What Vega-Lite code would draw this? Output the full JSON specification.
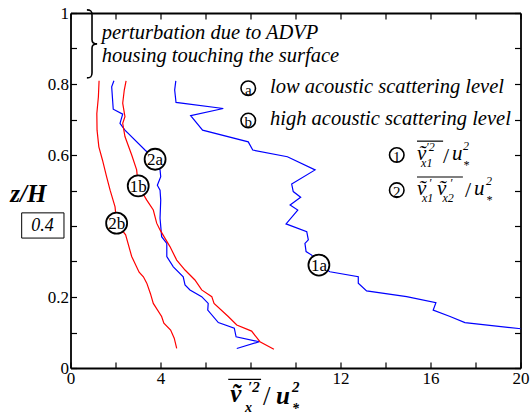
{
  "$schema": "https://vega.github.io/schema/vega-lite/v6.json",
  "width": 450,
  "height": 355,
  "autosize": {"type": "none"},
  "padding": {"left": 70.5, "top": 13, "right": 11.5, "bottom": 47},
  "background": "white",
  "config": {
    "view": {"stroke": null},
    "font": "'Liberation Serif', 'Times New Roman', Times, serif",
    "text": {"font": "'Liberation Serif', 'Times New Roman', Times, serif"},
    "axis": {
      "domainColor": "black", "domainWidth": 1.8,
      "tickColor": "black", "tickWidth": 1.2, "tickSize": -6,
      "labelFont": "'Liberation Serif', 'Times New Roman', Times, serif", "labelFontSize": 17, "labelColor": "black",
      "labelFlush": false, "labelOverlap": false, "grid": false
    }
  },
  "datasets": {
    "curves": [
      {"s":"1a","i":0,"x":4.68,"y":0.809},{"s":"1a","i":1,"x":4.63,"y":0.783},{"s":"1a","i":2,"x":4.69,"y":0.748},{"s":"1a","i":3,"x":6.79,"y":0.731},{"s":"1a","i":4,"x":5.34,"y":0.711},{"s":"1a","i":5,"x":5.87,"y":0.670},{"s":"1a","i":6,"x":7.90,"y":0.637},{"s":"1a","i":7,"x":8.10,"y":0.614},{"s":"1a","i":8,"x":9.64,"y":0.595},{"s":"1a","i":9,"x":10.87,"y":0.558},{"s":"1a","i":10,"x":9.83,"y":0.518},{"s":"1a","i":11,"x":9.90,"y":0.497},{"s":"1a","i":12,"x":10.23,"y":0.481},{"s":"1a","i":13,"x":9.76,"y":0.459},{"s":"1a","i":14,"x":10.10,"y":0.445},{"s":"1a","i":15,"x":9.58,"y":0.406},{"s":"1a","i":16,"x":10.50,"y":0.384},{"s":"1a","i":17,"x":10.57,"y":0.361},{"s":"1a","i":18,"x":10.42,"y":0.351},{"s":"1a","i":19,"x":10.47,"y":0.328},{"s":"1a","i":20,"x":10.72,"y":0.318},{"s":"1a","i":21,"x":11.04,"y":0.290},{"s":"1a","i":22,"x":11.53,"y":0.271},{"s":"1a","i":23,"x":12.79,"y":0.257},{"s":"1a","i":24,"x":12.79,"y":0.239},{"s":"1a","i":25,"x":13.16,"y":0.217},{"s":"1a","i":26,"x":14.94,"y":0.201},{"s":"1a","i":27,"x":16.24,"y":0.184},{"s":"1a","i":28,"x":16.12,"y":0.163},{"s":"1a","i":29,"x":16.87,"y":0.145},{"s":"1a","i":30,"x":17.53,"y":0.128},{"s":"1a","i":31,"x":20.1,"y":0.110},
      {"s":"2a","i":0,"x":1.93,"y":0.809},{"s":"2a","i":1,"x":1.83,"y":0.792},{"s":"2a","i":2,"x":1.90,"y":0.729},{"s":"2a","i":3,"x":2.32,"y":0.715},{"s":"2a","i":4,"x":2.20,"y":0.689},{"s":"2a","i":5,"x":2.42,"y":0.670},{"s":"2a","i":6,"x":3.31,"y":0.614},{"s":"2a","i":7,"x":3.76,"y":0.588},{"s":"2a","i":8,"x":3.98,"y":0.558},{"s":"2a","i":9,"x":4.01,"y":0.539},{"s":"2a","i":10,"x":3.86,"y":0.515},{"s":"2a","i":11,"x":3.98,"y":0.501},{"s":"2a","i":12,"x":4.01,"y":0.473},{"s":"2a","i":13,"x":3.98,"y":0.422},{"s":"2a","i":14,"x":4.05,"y":0.370},{"s":"2a","i":15,"x":4.28,"y":0.351},{"s":"2a","i":16,"x":4.28,"y":0.314},{"s":"2a","i":17,"x":4.57,"y":0.285},{"s":"2a","i":18,"x":5.01,"y":0.257},{"s":"2a","i":19,"x":5.09,"y":0.234},{"s":"2a","i":20,"x":5.31,"y":0.220},{"s":"2a","i":21,"x":5.83,"y":0.201},{"s":"2a","i":22,"x":6.12,"y":0.182},{"s":"2a","i":23,"x":6.10,"y":0.163},{"s":"2a","i":24,"x":6.57,"y":0.128},{"s":"2a","i":25,"x":7.28,"y":0.112},{"s":"2a","i":26,"x":7.36,"y":0.088},{"s":"2a","i":27,"x":8.39,"y":0.074},{"s":"2a","i":28,"x":7.39,"y":0.055},
      {"s":"1b","i":0,"x":2.47,"y":0.809},{"s":"1b","i":1,"x":2.39,"y":0.783},{"s":"1b","i":2,"x":2.32,"y":0.746},{"s":"1b","i":3,"x":2.42,"y":0.708},{"s":"1b","i":4,"x":2.32,"y":0.689},{"s":"1b","i":5,"x":2.42,"y":0.652},{"s":"1b","i":6,"x":2.72,"y":0.600},{"s":"1b","i":7,"x":2.94,"y":0.558},{"s":"1b","i":8,"x":3.01,"y":0.513},{"s":"1b","i":9,"x":3.39,"y":0.473},{"s":"1b","i":10,"x":3.68,"y":0.445},{"s":"1b","i":11,"x":3.83,"y":0.408},{"s":"1b","i":12,"x":3.98,"y":0.389},{"s":"1b","i":13,"x":4.42,"y":0.342},{"s":"1b","i":14,"x":4.72,"y":0.304},{"s":"1b","i":15,"x":5.09,"y":0.276},{"s":"1b","i":16,"x":5.53,"y":0.248},{"s":"1b","i":17,"x":5.83,"y":0.220},{"s":"1b","i":18,"x":6.28,"y":0.201},{"s":"1b","i":19,"x":6.38,"y":0.182},{"s":"1b","i":20,"x":7.01,"y":0.145},{"s":"1b","i":21,"x":7.39,"y":0.121},{"s":"1b","i":22,"x":8.05,"y":0.104},{"s":"1b","i":23,"x":8.42,"y":0.074},{"s":"1b","i":24,"x":9.04,"y":0.053},
      {"s":"2b","i":0,"x":1.27,"y":0.809},{"s":"2b","i":1,"x":1.24,"y":0.764},{"s":"2b","i":2,"x":1.17,"y":0.717},{"s":"2b","i":3,"x":1.18,"y":0.670},{"s":"2b","i":4,"x":1.26,"y":0.623},{"s":"2b","i":5,"x":1.42,"y":0.586},{"s":"2b","i":6,"x":1.60,"y":0.540},{"s":"2b","i":7,"x":1.76,"y":0.501},{"s":"2b","i":8,"x":1.98,"y":0.454},{"s":"2b","i":9,"x":2.05,"y":0.408},{"s":"2b","i":10,"x":2.45,"y":0.375},{"s":"2b","i":11,"x":2.72,"y":0.314},{"s":"2b","i":12,"x":3.05,"y":0.270},{"s":"2b","i":13,"x":3.24,"y":0.257},{"s":"2b","i":14,"x":3.39,"y":0.239},{"s":"2b","i":15,"x":3.55,"y":0.210},{"s":"2b","i":16,"x":3.68,"y":0.182},{"s":"2b","i":17,"x":4.05,"y":0.145},{"s":"2b","i":18,"x":4.15,"y":0.126},{"s":"2b","i":19,"x":4.45,"y":0.107},{"s":"2b","i":20,"x":4.61,"y":0.084},{"s":"2b","i":21,"x":4.72,"y":0.055}
    ],
    "markers": [
      {"label":"1a","x":11.04,"y":0.290},{"label":"2a","x":3.76,"y":0.588},{"label":"1b","x":3.01,"y":0.513},{"label":"2b","x":2.05,"y":0.408}
    ],
    "keys": [
      {"k":"a","x":7.9,"y":0.788},{"k":"b","x":7.9,"y":0.697},{"k":"1","x":14.5,"y":0.600},{"k":"2","x":14.5,"y":0.501}
    ],
    "notes": [
      {"t":"perturbation due to ADVP","x":1.387,"y":0.927},
      {"t":"housing touching the surface","x":1.387,"y":0.862},
      {"t":"low acoustic scattering level","x":8.867,"y":0.774},
      {"t":"high acoustic scattering level","x":8.867,"y":0.685}
    ],
    "fbig": [
      {"t":"ṽ","x":15.40,"y":0.586},{"t":"u","x":16.96,"y":0.586},
      {"t":"ṽ","x":15.40,"y":0.487},{"t":"ṽ","x":16.29,"y":0.487},{"t":"u","x":17.93,"y":0.487}
    ],
    "fsup": [
      {"t":"′2","x":15.80,"y":0.610},{"t":"2","x":17.44,"y":0.613},
      {"t":"′","x":15.92,"y":0.510},{"t":"′","x":16.85,"y":0.510},{"t":"2","x":18.47,"y":0.515}
    ],
    "fsub": [
      {"t":"x1","x":15.58,"y":0.566},{"t":"*","x":17.44,"y":0.560},
      {"t":"x1","x":15.62,"y":0.467},{"t":"x2","x":16.53,"y":0.467},{"t":"*","x":18.47,"y":0.462}
    ],
    "fslash": [
      {"t":"/","x":16.56,"y":0.577},{"t":"/","x":17.53,"y":0.482}
    ],
    "bars": [
      {"x":15.40,"x2":16.56,"y":0.639},{"x":15.40,"x2":17.44,"y":0.538},{"x":7.01,"x2":8.47,"y":-0.032}
    ],
    "tbig": [
      {"t":"ṽ","x":7.10,"y":-0.096},{"t":"u","x":9.13,"y":-0.101}
    ],
    "tsup": [
      {"t":"′2","x":7.89,"y":-0.068},{"t":"2","x":9.84,"y":-0.068}
    ],
    "tsub": [
      {"t":"x","x":7.76,"y":-0.125},{"t":"*","x":9.84,"y":-0.126}
    ],
    "tslash": [
      {"t":"/","x":8.56,"y":-0.104}
    ]
  },
  "layer": [
    {
      "data": {"name": "curves"},
      "mark": {"type": "line", "strokeWidth": 1.2, "clip": true},
      "encoding": {
        "x": {"field": "x", "type": "quantitative", "scale": {"domain": [0, 20], "nice": false, "zero": false},
              "axis": {"orient": "bottom", "title": null, "values": [0,2,4,6,8,10,12,14,16,18,20], "labelPadding": 8,
                       "labelExpr": "(datum.value % 4 == 0 && datum.value != 8) ? datum.label : ''"}},
        "y": {"field": "y", "type": "quantitative", "scale": {"domain": [0, 1], "nice": false, "zero": false},
              "axis": {"orient": "left", "title": null, "values": [0,0.1,0.2,0.3,0.4,0.5,0.6,0.7,0.8,0.9,1], "labelPadding": 8,
                       "labelExpr": "(round(datum.value*10) % 2 == 0 && round(datum.value*10) != 4) ? format(datum.value, '~g') : ''"}},
        "color": {"field": "s", "type": "nominal", "scale": {"domain": ["1a","2a","1b","2b"], "range": ["#0000ff","#0000ff","#ff0000","#ff0000"]}, "legend": null},
        "order": {"field": "i", "type": "quantitative"}
      }
    },
    {
      "data": {"name": "markers"},
      "mark": {"type": "point", "shape": "circle", "size": 440, "filled": true, "fill": "white", "stroke": "black", "strokeWidth": 1.8, "opacity": 1},
      "encoding": {
        "x": {"field": "x", "type": "quantitative", "scale": {"domain": [0, 20], "nice": false, "zero": false},
              "axis": {"orient": "top", "title": null, "labels": false, "values": [0,2,4,6,8,10,12,14,16,18,20]}},
        "y": {"field": "y", "type": "quantitative", "scale": {"domain": [0, 1], "nice": false, "zero": false},
              "axis": {"orient": "right", "title": null, "labels": false, "values": [0,0.1,0.2,0.3,0.4,0.5,0.6,0.7,0.8,0.9,1]}}
      }
    },
    {
      "data": {"name": "markers"},
      "mark": {"type": "text", "fontSize": 17, "baseline": "middle", "align": "center", "dy": 1, "color": "black"},
      "encoding": {
        "x": {"field": "x", "type": "quantitative", "axis": null},
        "y": {"field": "y", "type": "quantitative", "axis": null},
        "text": {"field": "label"}
      }
    },
    {
      "data": {"name": "keys"},
      "mark": {"type": "point", "shape": "circle", "size": 210, "filled": true, "fill": "white", "stroke": "black", "strokeWidth": 1.6, "opacity": 1},
      "encoding": {
        "x": {"field": "x", "type": "quantitative", "axis": null},
        "y": {"field": "y", "type": "quantitative", "axis": null}
      }
    },
    {
      "data": {"name": "keys"},
      "mark": {"type": "text", "fontSize": 15, "baseline": "middle", "align": "center", "dy": 1.5, "color": "black"},
      "encoding": {
        "x": {"field": "x", "type": "quantitative", "axis": null},
        "y": {"field": "y", "type": "quantitative", "axis": null},
        "text": {"field": "k"}
      }
    },
    {
      "data": {"name": "notes"},
      "mark": {"type": "text", "fontSize": 20.5, "fontStyle": "italic", "baseline": "alphabetic", "align": "left", "color": "black"},
      "encoding": {
        "x": {"field": "x", "type": "quantitative", "axis": null},
        "y": {"field": "y", "type": "quantitative", "axis": null},
        "text": {"field": "t"}
      }
    },
    {
      "data": {"name": "fbig"},
      "mark": {"type": "text", "fontSize": 21, "fontStyle": "italic", "baseline": "alphabetic", "align": "left", "color": "black"},
      "encoding": {
        "x": {"field": "x", "type": "quantitative", "axis": null},
        "y": {"field": "y", "type": "quantitative", "axis": null},
        "text": {"field": "t"}
      }
    },
    {
      "data": {"name": "fsup"},
      "mark": {"type": "text", "fontSize": 12, "fontStyle": "italic", "baseline": "alphabetic", "align": "left", "color": "black"},
      "encoding": {
        "x": {"field": "x", "type": "quantitative", "axis": null},
        "y": {"field": "y", "type": "quantitative", "axis": null},
        "text": {"field": "t"}
      }
    },
    {
      "data": {"name": "fsub"},
      "mark": {"type": "text", "fontSize": 12, "fontStyle": "italic", "baseline": "alphabetic", "align": "left", "color": "black"},
      "encoding": {
        "x": {"field": "x", "type": "quantitative", "axis": null},
        "y": {"field": "y", "type": "quantitative", "axis": null},
        "text": {"field": "t"}
      }
    },
    {
      "data": {"name": "fslash"},
      "mark": {"type": "text", "fontSize": 22, "baseline": "alphabetic", "align": "left", "color": "black"},
      "encoding": {
        "x": {"field": "x", "type": "quantitative", "axis": null},
        "y": {"field": "y", "type": "quantitative", "axis": null},
        "text": {"field": "t"}
      }
    },
    {
      "data": {"name": "bars"},
      "mark": {"type": "rule", "color": "black", "strokeWidth": 1.2},
      "encoding": {
        "x": {"field": "x", "type": "quantitative", "axis": null},
        "x2": {"field": "x2"},
        "y": {"field": "y", "type": "quantitative", "axis": null}
      }
    },
    {
      "data": {"name": "tbig"},
      "mark": {"type": "text", "fontSize": 25, "fontStyle": "italic", "fontWeight": "bold", "baseline": "alphabetic", "align": "left", "color": "black"},
      "encoding": {
        "x": {"field": "x", "type": "quantitative", "axis": null},
        "y": {"field": "y", "type": "quantitative", "axis": null},
        "text": {"field": "t"}
      }
    },
    {
      "data": {"name": "tsup"},
      "mark": {"type": "text", "fontSize": 15, "fontStyle": "italic", "fontWeight": "bold", "baseline": "alphabetic", "align": "left", "color": "black"},
      "encoding": {
        "x": {"field": "x", "type": "quantitative", "axis": null},
        "y": {"field": "y", "type": "quantitative", "axis": null},
        "text": {"field": "t"}
      }
    },
    {
      "data": {"name": "tsub"},
      "mark": {"type": "text", "fontSize": 14, "fontStyle": "italic", "fontWeight": "bold", "baseline": "alphabetic", "align": "left", "color": "black"},
      "encoding": {
        "x": {"field": "x", "type": "quantitative", "axis": null},
        "y": {"field": "y", "type": "quantitative", "axis": null},
        "text": {"field": "t"}
      }
    },
    {
      "data": {"name": "tslash"},
      "mark": {"type": "text", "fontSize": 27, "baseline": "alphabetic", "align": "left", "color": "black"},
      "encoding": {
        "x": {"field": "x", "type": "quantitative", "axis": null},
        "y": {"field": "y", "type": "quantitative", "axis": null},
        "text": {"field": "t"}
      }
    },
    {
      "data": {"values": [{}]},
      "mark": {"type": "text", "fontSize": 25, "fontStyle": "italic", "fontWeight": "bold", "baseline": "alphabetic", "align": "center", "color": "black", "text": "z/H"},
      "encoding": {
        "x": {"datum": -1.876, "type": "quantitative", "axis": null},
        "y": {"datum": 0.468, "type": "quantitative", "axis": null}
      }
    },
    {
      "data": {"values": [{}]},
      "mark": {"type": "rect", "fill": "white", "stroke": "black", "strokeWidth": 1},
      "encoding": {
        "x": {"datum": -2.17, "type": "quantitative", "axis": null},
        "x2": {"datum": -0.29},
        "y": {"datum": 0.366, "type": "quantitative", "axis": null},
        "y2": {"datum": 0.437}
      }
    },
    {
      "data": {"values": [{}]},
      "mark": {"type": "text", "fontSize": 18, "fontStyle": "italic", "baseline": "alphabetic", "align": "center", "color": "black", "text": "0.4"},
      "encoding": {
        "x": {"datum": -1.244, "type": "quantitative", "axis": null},
        "y": {"datum": 0.387, "type": "quantitative", "axis": null}
      }
    },
    {
      "data": {"values": [{}]},
      "mark": {"type": "point", "shape": "M -0.15 -1 C -0.03 -1 0 -0.96 0 -0.85 L 0 -0.12 C 0 -0.04 0.06 0 0.15 0 C 0.06 0 0 0.04 0 0.12 L 0 0.85 C 0 0.96 -0.03 1 -0.15 1", "size": 4624, "filled": false, "stroke": "black", "strokeWidth": 1.6, "opacity": 1},
      "encoding": {
        "x": {"datum": 0.956, "type": "quantitative", "axis": null},
        "y": {"datum": 0.913, "type": "quantitative", "axis": null}
      }
    }
  ],
  "resolve": {"axis": {"x": "independent", "y": "independent"}}
}
